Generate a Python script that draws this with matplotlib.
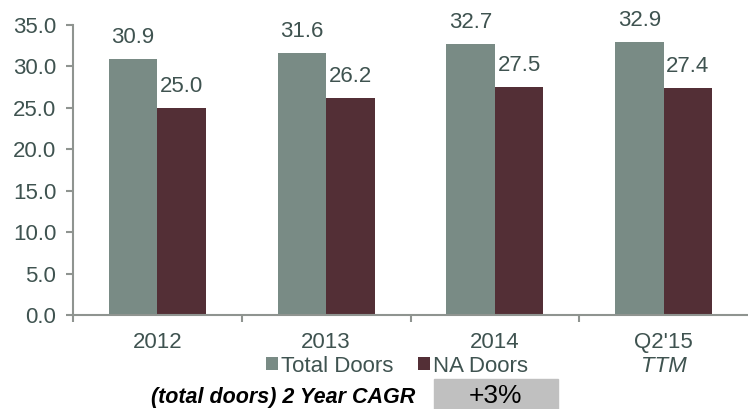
import numpy as np
import matplotlib
matplotlib.use('Agg')
from matplotlib import pyplot as plt
from matplotlib.patches import Rectangle

plt.rcParams['font.family'] = ['Liberation Sans', 'DejaVu Sans']

categories = ['2012', '2013', '2014', "Q2'15"]
total_doors = [30.9, 31.6, 32.7, 32.9]
na_doors = [25.0, 26.2, 27.5, 27.4]
series_names = ['Total Doors', 'NA Doors']
y_ticks = [0, 5, 10, 15, 20, 25, 30, 35]
cagr_label = '(total doors) 2 Year CAGR'
cagr_value = '+3%'

gray = '#798b85'
maroon = '#532f36'
text_col = '#3f5350'
axis_col = '#8f9490'
fs = 16


def main():
    fig = plt.figure(figsize=(7.48, 4.09), dpi=100)
    ax = fig.add_axes([73 / 748, 1 - 315 / 409, 1 - 73 / 748, 290 / 409])

    x = np.arange(len(categories))
    w = 0.287
    b1 = ax.bar(x - w / 2, total_doors, w, color=gray, label=series_names[0])
    b2 = ax.bar(x + w / 2, na_doors, w, color=maroon, label=series_names[1])

    for bars, vals in ((b1, total_doors), (b2, na_doors)):
        for rect, v in zip(bars, vals):
            ax.annotate(f'{v:.1f}', (rect.get_x() + rect.get_width() / 2, v),
                        xytext=(0, 11.5), textcoords='offset points',
                        ha='center', va='baseline', fontsize=fs, color=text_col)

    ax.set_xlim(-0.5, len(categories) - 0.5)
    ax.set_ylim(0, 35)
    ax.set_yticks(y_ticks)
    ax.set_yticklabels([f'{t:.1f}' for t in y_ticks])

    ax.set_xticks(x)
    ax.set_xticklabels(categories)
    ax.set_xticks(np.arange(len(categories)) - 0.5, minor=True)
    ax.tick_params(axis='x', which='major', length=0, pad=12,
                   labelsize=fs, labelcolor=text_col)
    ax.tick_params(axis='x', which='minor', length=5, width=1.5,
                   color=axis_col, direction='out')
    ax.tick_params(axis='y', length=5, width=1.5, color=axis_col, pad=7,
                   labelsize=fs, labelcolor=text_col)

    for side in ('top', 'right'):
        ax.spines[side].set_visible(False)
    for side in ('left', 'bottom'):
        ax.spines[side].set_color(axis_col)
        ax.spines[side].set_linewidth(1.5)

    # TTM note under the last category
    ax.text(x[-1], -0.178, 'TTM', transform=ax.get_xaxis_transform(),
            ha='center', va='center', fontsize=fs, style='italic',
            color=text_col)

    fig.legend(handles=[b1, b2], loc='center', bbox_to_anchor=(397 / 748, 1 - 366 / 409),
               ncol=2, frameon=False, fontsize=fs, handlelength=0.55,
               handleheight=0.55, handletextpad=0.15, columnspacing=1.1,
               labelcolor=text_col, borderpad=0)

    fig.text(415 / 748, 1 - 398 / 409, cagr_label, ha='right', va='center',
             fontsize=15.5, fontweight='bold', style='italic', color='black')
    fig.patches.append(Rectangle((434 / 748, 0), 124 / 748, 30 / 409,
                                 transform=fig.transFigure, color='#c0c0c0',
                                 zorder=0))
    fig.text(496 / 748, 1 - 396 / 409, cagr_value, ha='center', va='center',
             fontsize=19, color='black')

    fig.savefig('out.png', dpi=100)


if __name__ == '__main__':
    main()
